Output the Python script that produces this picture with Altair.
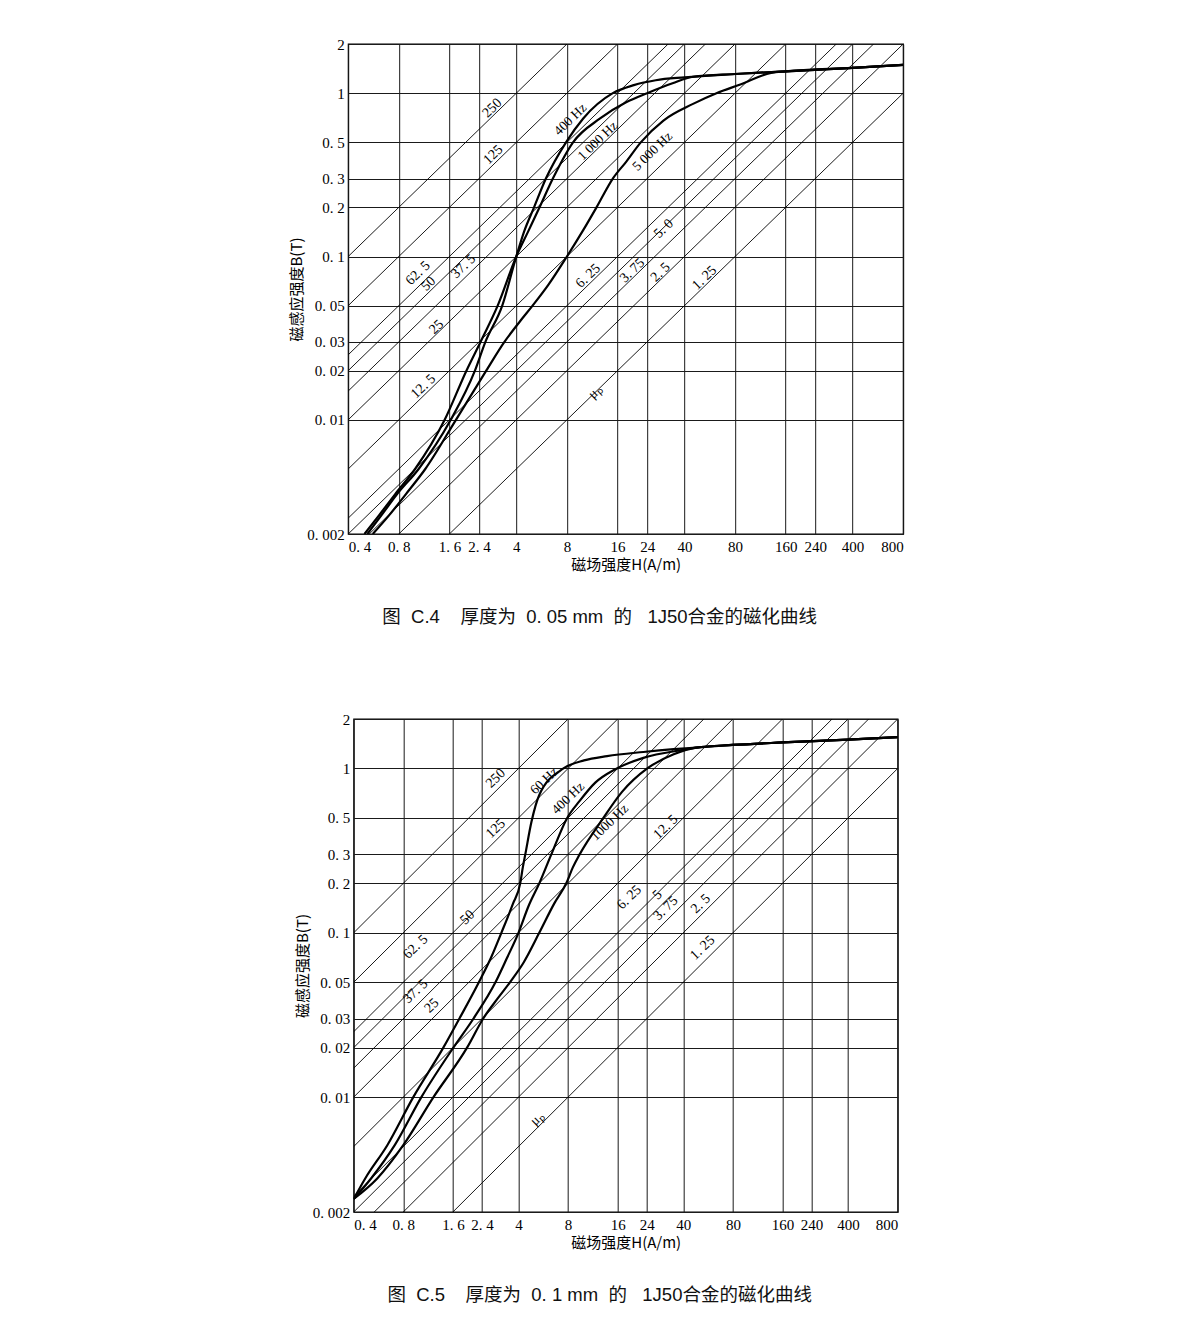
import json
import pandas as pd
import altair as alt

# axis ticks (log scales)
x_ticks = [0.4, 0.8, 1.6, 2.4, 4, 8, 16, 24, 40, 80, 160, 240, 400, 800]
x_tick_text = ["0. 4", "0. 8", "1. 6", "2. 4", "4", "8", "16", "24", "40", "80", "160", "240", "400", "800"]
y_ticks = [0.002, 0.01, 0.02, 0.03, 0.05, 0.1, 0.2, 0.3, 0.5, 1, 2]
y_tick_text = ["0. 002", "0. 01", "0. 02", "0. 03", "0. 05", "0. 1", "0. 2", "0. 3", "0. 5", "1", "2"]

# constant permeability lines, mH/m
mu_lines = [250, 125, 62.5, 50, 37.5, 25, 12.5, 6.25, 5.0, 3.75, 2.5, 1.25]

# ---- Fig C.4, 0.05 mm ----
c4_400_H = [0.52, 0.63, 0.78, 1.05, 1.63, 2.27, 2.62, 3.3, 4.0, 4.45, 5.1, 6.0, 7.9, 10.0, 15.0, 20.0, 27.0, 40.0, 80.0, 160.0, 400.0, 800.0]
c4_400_B = [0.002, 0.0026, 0.0035, 0.005, 0.01, 0.02, 0.03, 0.05, 0.1, 0.142, 0.2, 0.3, 0.5, 0.7, 1.0, 1.12, 1.2, 1.25, 1.31, 1.36, 1.43, 1.49]
c4_1000_H = [0.5, 0.61, 0.76, 1.0, 1.5, 2.02, 2.45, 3.1, 4.0, 4.7, 5.5, 6.6, 8.7, 12.6, 18.0, 24.0, 34.0, 45.0, 80.0, 160.0, 400.0, 800.0]
c4_1000_B = [0.002, 0.0026, 0.0035, 0.005, 0.01, 0.02, 0.03, 0.05, 0.1, 0.142, 0.2, 0.3, 0.5, 0.7, 0.88, 1.0, 1.15, 1.26, 1.31, 1.36, 1.43, 1.49]
c4_5000_H = [0.56, 0.7, 0.88, 1.15, 1.75, 2.65, 3.4, 4.2, 5.0, 6.2, 8.0, 10.0, 12.0, 15.0, 18.0, 22.0, 30.0, 45.0, 62.0, 86.0, 131.0, 160.0, 400.0, 800.0]
c4_5000_B = [0.002, 0.0026, 0.0035, 0.005, 0.01, 0.02, 0.03, 0.04, 0.05, 0.067, 0.1, 0.145, 0.2, 0.3, 0.38, 0.5, 0.68, 0.86, 1.0, 1.13, 1.33, 1.36, 1.43, 1.49]

c4_mu_text = ["250", "125", "62. 5", "50", "37. 5", "25", "12. 5", "6. 25", "3. 75", "2. 5", "5. 0", "1. 25", "μₚ"]
c4_mu_H = [2.88, 2.92, 1.04, 1.2, 1.94, 1.34, 1.12, 10.7, 19.6, 28.8, 30.1, 52.6, 11.8]
c4_mu_B = [0.81, 0.42, 0.079, 0.068, 0.087, 0.037, 0.016, 0.076, 0.082, 0.080, 0.148, 0.074, 0.0148]
c4_hz_text = ["400 Hz", "1 000 Hz", "5 000 Hz"]
c4_hz_H = [8.4, 12.2, 25.8]
c4_hz_B = [0.69, 0.51, 0.44]

# ---- Fig C.5, 0.1 mm ----
c5_60_H = [0.4, 0.47, 0.64, 0.92, 1.40, 1.75, 2.3, 2.75, 3.15, 3.7, 4.1, 4.25, 4.4, 4.8, 5.35, 7.5, 10.0, 13.8, 22.9, 35.0, 48.0, 80.0, 160.0, 400.0, 800.0]
c5_60_B = [0.0024, 0.0032, 0.0051, 0.01, 0.02, 0.03, 0.05, 0.072, 0.1, 0.15, 0.2, 0.25, 0.3, 0.475, 0.69, 1.0, 1.12, 1.19, 1.26, 1.31, 1.34, 1.39, 1.44, 1.50, 1.55]
c5_400_H = [0.4, 0.51, 0.71, 1.03, 1.61, 2.13, 2.9, 3.4, 4.0, 4.6, 5.35, 6.33, 7.9, 9.35, 11.7, 15.5, 22.9, 40.0, 48.0, 80.0, 160.0, 400.0, 800.0]
c5_400_B = [0.0024, 0.0032, 0.0051, 0.01, 0.02, 0.03, 0.05, 0.07, 0.1, 0.145, 0.2, 0.3, 0.5, 0.63, 0.82, 0.99, 1.16, 1.30, 1.34, 1.39, 1.44, 1.50, 1.55]
c5_1000_H = [0.4, 0.556, 0.8, 1.22, 1.95, 2.44, 3.0, 3.55, 4.3, 5.35, 6.6, 7.8, 8.55, 9.4, 13.1, 17.0, 24.2, 35.0, 48.0, 80.0, 160.0, 400.0, 800.0]
c5_1000_B = [0.0024, 0.0032, 0.0051, 0.01, 0.02, 0.03, 0.04, 0.05, 0.066, 0.1, 0.151, 0.2, 0.25, 0.3, 0.5, 0.72, 1.0, 1.22, 1.34, 1.39, 1.44, 1.50, 1.55]

c5_mu_text = ["250", "125", "62. 5", "50", "37. 5", "25", "12. 5", "6. 25", "5", "3. 75", "2. 5", "1. 25", "μₚ"]
c5_mu_H = [2.91, 2.91, 0.95, 1.96, 0.95, 1.19, 31.3, 18.8, 27.9, 31.3, 51.0, 52.4, 5.2]
c5_mu_B = [0.87, 0.43, 0.082, 0.124, 0.044, 0.036, 0.44, 0.164, 0.17, 0.141, 0.15, 0.081, 0.0074]
c5_hz_text = ["60 Hz", "400 Hz", "1000 Hz"]
c5_hz_H = [5.73, 8.0, 14.3]
c5_hz_B = [0.84, 0.66, 0.47]

SERIF = "Liberation Serif"
CJK = "Noto Sans CJK SC"
CAPTION_FONT = "Liberation Sans, Noto Sans CJK SC"
NB = "\u00a0"


def label_expr(values, texts):
    return f"{json.dumps(texts)}[indexof({json.dumps(values)}, datum.value)]"


x_enc = alt.X(
    "H:Q",
    scale=alt.Scale(type="log", domain=[0.4, 800], nice=False),
    axis=alt.Axis(values=x_ticks, labelExpr=label_expr(x_ticks, x_tick_text),
                  title="磁场强度H(A/m)", titlePadding=3, labelPadding=5),
)
y_enc = alt.Y(
    "B:Q",
    scale=alt.Scale(type="log", domain=[0.002, 2], nice=False),
    axis=alt.Axis(values=y_ticks, labelExpr=label_expr(y_ticks, y_tick_text),
                  title="磁感应强度B(T)", titlePadding=2, labelPadding=4),
)


def diag_lines():
    rows = []
    for m in mu_lines:
        for h in (0.4, 800):
            rows.append({"mu": m, "H": h, "B": m * h / 1000})
    return alt.Chart(pd.DataFrame(rows)).mark_line(
        color="black", strokeWidth=0.9, clip=True
    ).encode(x=x_enc, y=y_enc, detail="mu:N")


def curve_layer(curves):
    rows = []
    for name, hs, bs in curves:
        for h, b in zip(hs, bs):
            rows.append({"curve": name, "H": h, "B": b})
    return alt.Chart(pd.DataFrame(rows)).mark_line(
        color="black", strokeWidth=2.2, interpolate="monotone", clip=True
    ).encode(x=x_enc, y=y_enc, detail="curve:N")


def text_layer(texts, hs, bs, size):
    df = pd.DataFrame({"t": texts, "H": hs, "B": bs})
    return alt.Chart(df).mark_text(
        font=SERIF, fontSize=size, angle=316, color="black"
    ).encode(x=x_enc, y=y_enc, text="t:N")


def caption(fig, thick):
    return (f"图{NB * 2}C.{fig}{NB * 4}厚度为{NB * 2}{thick}{NB}mm{NB * 2}的"
            f"{NB * 3}1J50合金的磁化曲线")


def panel(curves, mu_t, mu_h, mu_b, hz_t, hz_h, hz_b, width, height, title):
    return alt.layer(
        diag_lines(),
        curve_layer(curves),
        text_layer(mu_t, mu_h, mu_b, 14),
        text_layer(hz_t, hz_h, hz_b, 13.5),
    ).properties(
        width=width, height=height,
        title=alt.TitleParams(title, orient="bottom", anchor="middle", frame="group",
                              dx=-26, offset=36, font=CAPTION_FONT, fontSize=18.5,
                              fontWeight="normal", color="#111"),
    )


fig4 = panel(
    [("400", c4_400_H, c4_400_B), ("1000", c4_1000_H, c4_1000_B), ("5000", c4_5000_H, c4_5000_B)],
    c4_mu_text, c4_mu_H, c4_mu_B, c4_hz_text, c4_hz_H, c4_hz_B,
    555, 490, caption(4, f"0.{NB}05"),
)
fig5 = panel(
    [("60", c5_60_H, c5_60_B), ("400", c5_400_H, c5_400_B), ("1000", c5_1000_H, c5_1000_B)],
    c5_mu_text, c5_mu_H, c5_mu_B, c5_hz_text, c5_hz_H, c5_hz_B,
    544, 493, caption(5, f"0.{NB}1"),
)

chart = alt.vconcat(fig4, fig5, spacing=83, center=True).properties(
    padding={"top": 28, "left": 281, "right": 10, "bottom": 10},
    background="white",
).configure_view(
    stroke="black", strokeWidth=1.3
).configure_axis(
    labelFont=SERIF, labelFontSize=15, labelColor="black",
    titleFont=CJK, titleFontSize=15, titleFontWeight="normal", titleColor="black",
    grid=True, gridColor="#1a1a1a", gridWidth=1, gridOpacity=1,
    ticks=False, domain=False,
)

chart.save("out.html", embed_options={"renderer": "svg", "actions": False})
